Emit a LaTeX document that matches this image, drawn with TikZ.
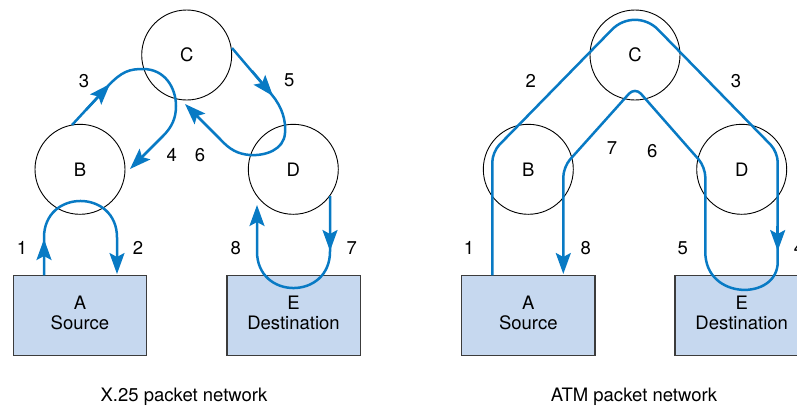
\documentclass[tikz,border=0pt]{standalone}
\usepackage{fontspec}
\setmainfont{TeX Gyre Heros}
\usetikzlibrary{arrows.meta}
\definecolor{flowblue}{RGB}{8,122,196}
\definecolor{boxfill}{RGB}{198,216,239}
\definecolor{boxline}{RGB}{60,60,60}
\tikzset{
  switchnode/.style={circle, draw=black, line width=0.9pt, minimum size=90pt, inner sep=0pt},
  hostbox/.style={rectangle, draw=boxline, fill=boxfill, line width=1.3pt, minimum width=133.3pt, minimum height=80pt, inner sep=0pt},
  hosttext/.style={align=center, inner sep=0pt},
  lbl/.style={inner sep=0pt},
  flow/.style={draw=flowblue, line width=2.5pt, line cap=butt, line join=round},
  tip/.style={-{Stealth[length=21pt, width=15pt, inset=4pt]}},
}
\begin{document}
\begin{tikzpicture}[x=1pt, y=-1pt, font=\fontsize{18.5}{20.6}\selectfont]
\useasboundingbox (0,0) rectangle (797,408);
\clip (0,0) rectangle (797,408);

% ---------------- X.25 network ----------------
\node[hostbox] (xA) at (80,315.3) {};
\node[hostbox] (xE) at (293.5,315.3) {};
\node[hosttext] at (80,313) {A\\Source};
\node[hosttext] at (293.5,313) {E\\Destination};

\node[switchnode] (xC) at (186.7,55) {C};
\node[switchnode] (xB) at (80,169.3) {B};
\node[switchnode] (xD) at (293.3,169.3) {D};

% A -> B -> A
\draw[flow, tip] (44,275.3) -- (44,237.5)
  .. controls (44,188.8) and (117,188.8) .. (117,237.5) -- (117,274);
\draw[flow, tip] (44,262) -- (44,239);
% B -> C -> B
\draw[flow, tip] (72,125) -- (108,86)
  .. controls (122,71) and (130,69) .. (143,69)
  .. controls (165,69) and (176,88) .. (176,106)
  .. controls (176,118) and (172,127) .. (163,136) -- (130,169);
\draw[flow, tip] (86,110) -- (110,84);
% C -> D -> C
\draw[flow, tip] (232,48) -- (272,95)
  .. controls (282,107) and (286,120) .. (285,133)
  .. controls (284,150) and (265,156) .. (250,155)
  .. controls (238,154) and (230,150) .. (220,139) -- (185,104);
\draw[flow, tip] (252,71) -- (273,96);
% D -> E -> D
\draw[flow, tip] (330,196) -- (330,251.5)
  .. controls (330,300.2) and (257,300.2) .. (257,251.5) -- (257,205);
\draw[flow, tip] (330,226) -- (330,251);

\node[lbl] at (22,248) {1};
\node[lbl] at (138,248) {2};
\node[lbl] at (84,80.7) {3};
\node[lbl] at (171.7,155.3) {4};
\node[lbl] at (289.3,80.7) {5};
\node[lbl] at (200,155.3) {6};
\node[lbl] at (351.7,248) {7};
\node[lbl] at (235.7,248) {8};

\node[lbl] at (184,396.7) {X.25 packet network};

% ---------------- ATM network ----------------
\node[hostbox] (mA) at (528.3,315.3) {};
\node[hostbox] (mE) at (741.7,315.3) {};
\node[hosttext] at (528.3,313) {A\\Source};
\node[hosttext] at (741.7,313) {E\\Destination};

\node[switchnode] (mC) at (635,55) {C};
\node[switchnode] (mB) at (528.3,169.3) {B};
\node[switchnode] (mD) at (741.7,169.3) {D};

% one virtual circuit A -> B -> C -> D -> E and back
\draw[flow, tip] (492.3,275.3) [rounded corners=10pt] -- (492.3,152)
  [rounded corners=33pt] -- (635,6)
  [rounded corners=10pt] -- (777.7,152) -- (777.7,252) [sharp corners]
  .. controls (777.7,300.7) and (705.3,300.7) .. (705.3,252)
  [rounded corners=10pt] -- (705.3,167)
  [rounded corners=9pt] -- (635,87)
  [rounded corners=10pt] -- (563.3,167) -- (563.3,274);
\draw[flow, tip] (777.7,226) -- (777.7,251);

\node[lbl] at (469,248) {1};
\node[lbl] at (530.7,80.7) {2};
\node[lbl] at (736,80.7) {3};
\node[lbl] at (799,248) {4};
\node[lbl] at (682.7,248) {5};
\node[lbl] at (652.3,150.7) {6};
\node[lbl] at (612,148) {7};
\node[lbl] at (585.7,248) {8};

\node[lbl] at (634,396.7) {ATM packet network};
\end{tikzpicture}
\end{document}
